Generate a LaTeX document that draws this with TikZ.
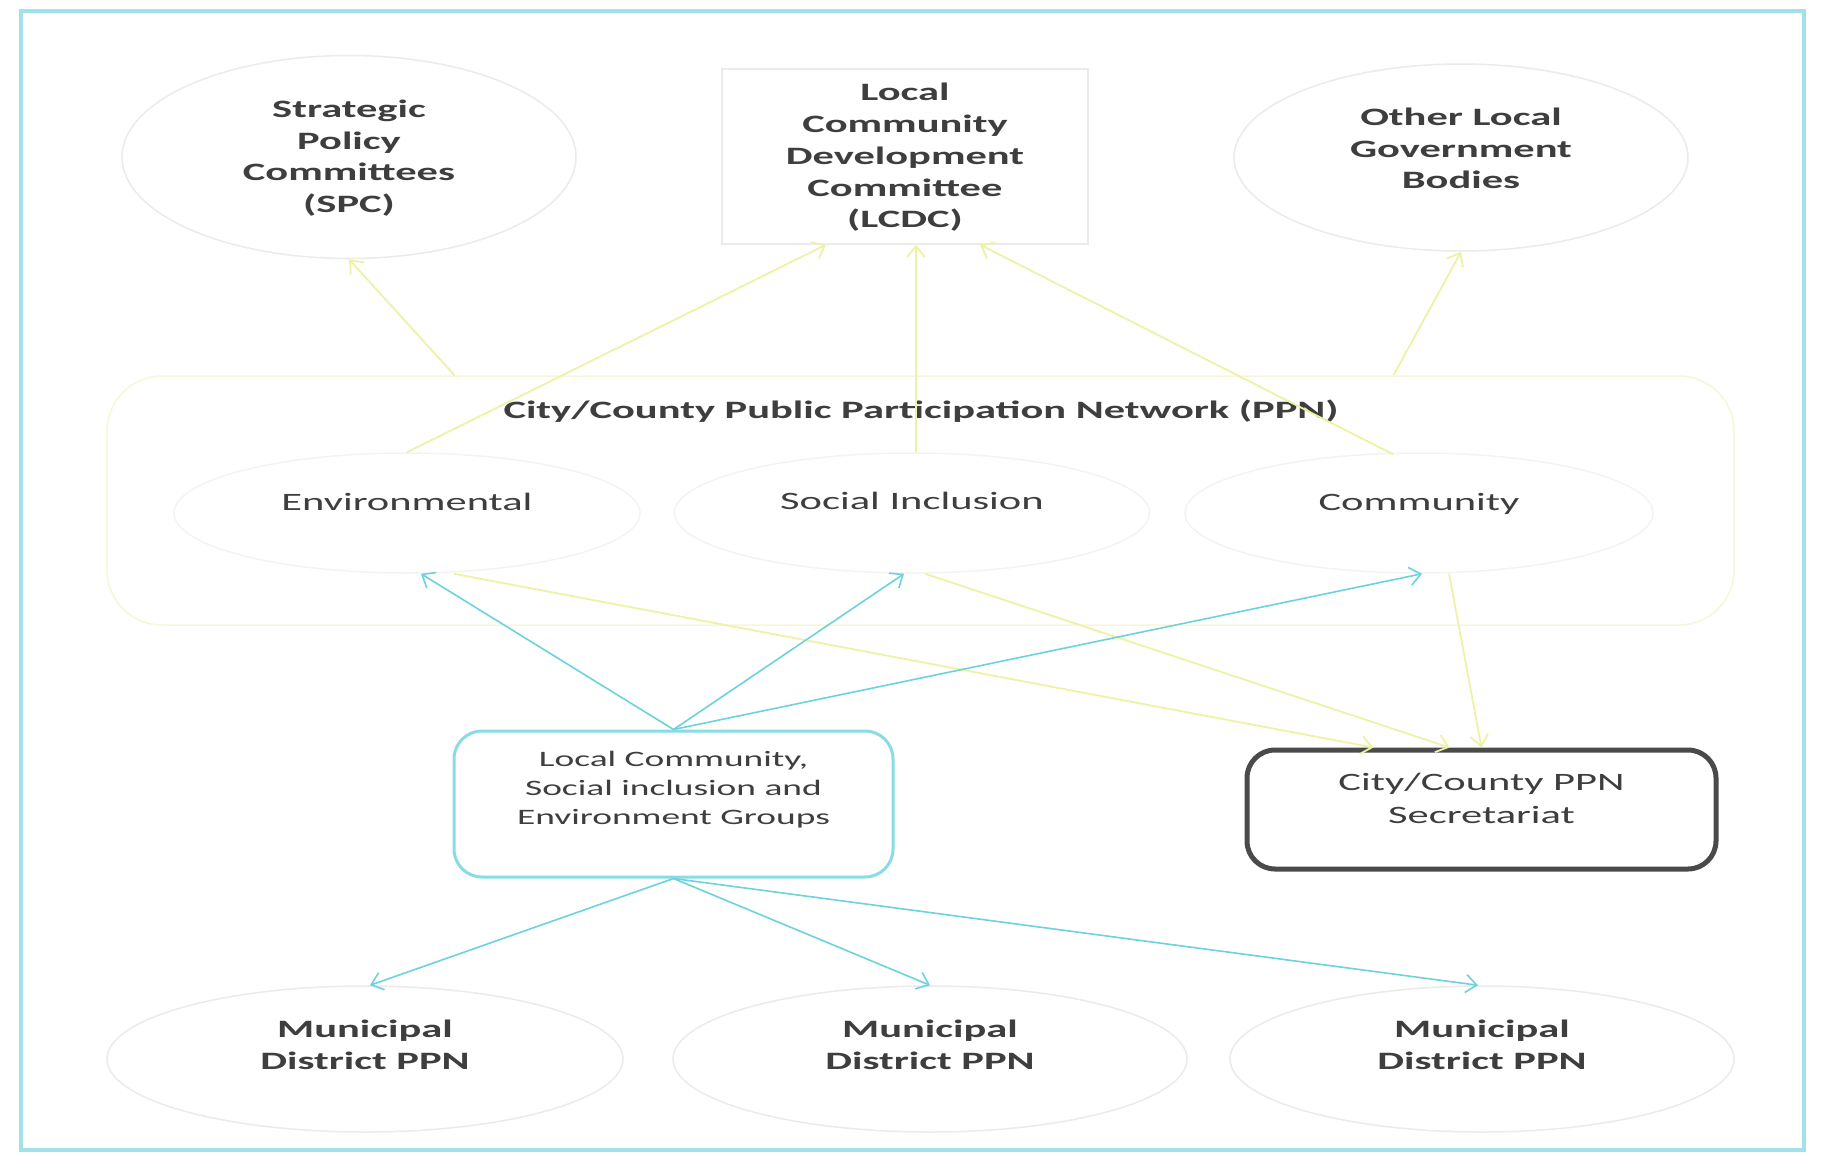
\documentclass[tikz,border=0pt]{standalone}
\usepackage{fontspec}
\setmainfont{Carlito}[FakeStretch=1.7]
\usetikzlibrary{shapes.geometric,arrows.meta}
\definecolor{txt}{HTML}{3E3E3E}
\definecolor{ylw}{HTML}{EEF2A6}
\definecolor{cyn}{HTML}{6CD2DE}
\definecolor{frm}{HTML}{A2E1EA}
\definecolor{ellgray}{HTML}{EBEBEB}
\definecolor{innergray}{HTML}{F4F4EE}
\definecolor{ppnyl}{HTML}{F6F6DA}
\definecolor{secgray}{HTML}{4A4A4A}
\begin{document}
\begin{tikzpicture}[x=1pt,y=-1pt,
  fnt/.style={text=txt,font=\fontsize{25}{31.7}\selectfont,align=center},
  fntb/.style={text=txt,font=\fontsize{25}{31.7}\selectfont\bfseries,align=center},
  fnts/.style={text=txt,font=\fontsize{22}{29}\selectfont,align=center},
  ell/.style={ellipse,draw=ellgray,line width=1.5pt,inner sep=0pt},
  inell/.style={ellipse,draw=innergray,line width=1.5pt,inner sep=0pt},
  yarr/.style={draw=ylw,line width=1.8pt,-{Straight Barb[length=11pt,width=18pt,line width=1.8pt]}},
  carr/.style={draw=cyn,line width=1.6pt,-{Straight Barb[length=11pt,width=18pt,line width=1.6pt]}}
]
\useasboundingbox (0,0) rectangle (1825,1175);
\fill[white] (0,0) rectangle (1825,1175);
\draw[frm,line width=4pt] (21,11) rectangle (1804,1150);

% top row
\node[ell,minimum width=454pt,minimum height=203pt,
  label={[fntb,yshift=-1pt]center:Strategic\\Policy\\Committees\\(SPC)}] (spc) at (349,157) {};
\node[draw=ellgray,line width=1.5pt,minimum width=366pt,minimum height=175pt,inner sep=0pt,
  label={[fntb,yshift=-1pt]center:Local\\Community\\Development\\Committee\\(LCDC)}] (lcdc) at (905,156.5) {};
\node[ell,minimum width=454pt,minimum height=187pt,
  label={[fntb,yshift=9pt]center:Other Local\\Government\\Bodies}] (olg) at (1461,157.5) {};

% PPN
\node[draw=ppnyl,line width=1.5pt,rounded corners=55pt,minimum width=1627pt,minimum height=249pt,inner sep=0pt] (ppn) at (920.5,500.5) {};
\node[fntb] (ppnt) at (921,411) {City/County Public Participation Network (PPN)};
\node[inell,minimum width=466pt,minimum height=120pt,
  label={[fnt,yshift=11pt]center:Environmental}] (env) at (407,513) {};
\node[inell,minimum width=475pt,minimum height=120pt,
  label={[fnt,yshift=12pt]center:Social Inclusion}] (soc) at (912,513) {};
\node[inell,minimum width=468pt,minimum height=120pt,
  label={[fnt,yshift=9pt]center:Community}] (com) at (1419,513) {};

% middle boxes
\node[draw=cyn!80,line width=3pt,rounded corners=28pt,minimum width=439pt,minimum height=146pt,inner sep=0pt,
  label={[fnts,yshift=14pt]center:Local Community,\\Social inclusion and\\Environment Groups}] (grp) at (673.5,804) {};
\node[draw=secgray,line width=5pt,rounded corners=28pt,minimum width=469pt,minimum height=119pt,inner sep=0pt,
  label={[fnt,font=\fontsize{25}{33}\selectfont,yshift=11pt]center:City/County PPN\\Secretariat}] (sec) at (1481.5,809.5) {};

% bottom row
\node[ell,minimum width=516pt,minimum height=146pt,
  label={[fntb,yshift=14pt]center:Municipal\\District PPN}] (mun1) at (365,1059) {};
\node[ell,minimum width=514pt,minimum height=146pt,
  label={[fntb,yshift=14pt]center:Municipal\\District PPN}] (mun2) at (930,1059) {};
\node[ell,minimum width=504pt,minimum height=146pt,
  label={[fntb,yshift=14pt]center:Municipal\\District PPN}] (mun3) at (1482,1059) {};

% yellow arrows up
\draw[yarr] ([xshift=-466pt]ppn.north) -- (spc.south);
\draw[yarr] (env.north) -- ([xshift=-79pt]lcdc.south);
\draw[yarr] ([xshift=4pt]soc.north) -- ([xshift=11pt]lcdc.south);
\draw[yarr] ([xshift=-26pt,yshift=-2pt]com.north) -- ([xshift=75pt]lcdc.south);
\draw[yarr] ([xshift=473pt]ppn.north) -- (olg.south);

% yellow arrows down
\draw[yarr] ([xshift=47pt]env.south) -- ([xshift=-108pt]sec.north);
\draw[yarr] ([xshift=13pt]soc.south) -- ([xshift=-32pt]sec.north);
\draw[yarr] ([xshift=30pt]com.south) -- (sec.north);

% cyan arrows up
\draw[carr] (grp.north) -- ([xshift=14pt]env.south);
\draw[carr] (grp.north) -- ([xshift=-8pt]soc.south);
\draw[carr] (grp.north) -- ([xshift=3pt]com.south);

% cyan arrows down
\draw[carr] (grp.south) -- ([xshift=5pt]mun1.north);
\draw[carr] (grp.south) -- (mun2.north);
\draw[carr] (grp.south) -- ([xshift=-4pt]mun3.north);
\end{tikzpicture}
\end{document}
